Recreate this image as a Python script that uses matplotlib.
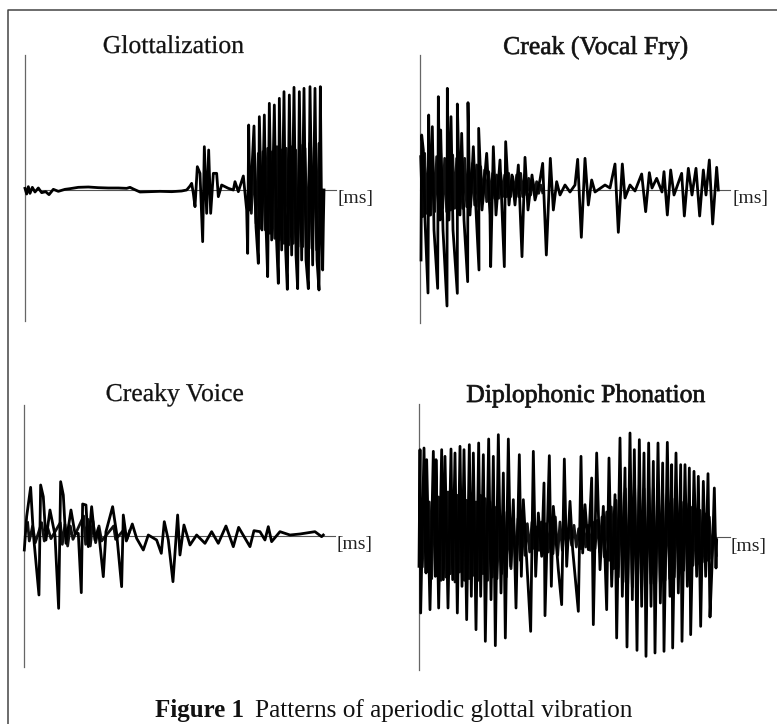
import matplotlib
matplotlib.use("Agg")
import matplotlib.pyplot as plt
import matplotlib.patheffects as pe

# Values as (t, v) turning points: t = distance from the vertical axis,
# v = height above the zero line, both in the same arbitrary units (the chart prints no scale)
titles = ["Glottalization", "Creak (Vocal Fry)", "Creaky Voice", "Diplophonic Phonation"]
caption_bold = "Figure 1"
caption_rest = "Patterns of aperiodic glottal vibration"
ms_label = "[ms]"

glott = [(0,5),(5,-12),(10,10),(15,-10),(22,8),(30,-6),(40,6),(50,-8),(62,-5),(72,-14),(85,2),(100,-4),
         (120,2),(135,4),(160,8),(190,9),(220,7),(250,6),(280,6),(305,5),(315,8),(325,3),(345,-6),(375,-5),
         (405,-4),(440,-5),(470,-3),(485,0),(495,12),(500,20),(505,-10),(510,-50),(517,70),(525,50),
         (533,-155),(538,130),(545,-70),(551,120),(557,-70),(565,50),(575,50),(580,-20),(590,15),(610,5),
         (625,0),(630,25),(640,-5),(655,42),(665,-60),(668,-190),(671,195),(675,-60),(687,192),(693,-110),
         (700,-220),(703,220),(711,-120),(718,225),(723,-105),(728,-260),(733,260),(740,-150),(748,255),
         (754,-135),(760,-280),(763,275),(770,-180),(777,295),(782,-180),(787,-298),(793,285),(800,-195),
         (807,308),(813,-195),(818,-296),(823,295),(830,-210),(837,305),(843,-210),(850,-296),(855,310),
         (863,-225),(870,305),(876,-210),(882,-300),(886,310),(890,-105),(893,-240),(895,-105),(897,0)]

creak = [(3,-210),(5,165),(10,120),(15,-90),(24,-309),(26,225),(30,-75),(37,190),(42,-120),(53,-295),(55,280),
         (60,-90),(62,180),(69,-120),(81,-348),(82,305),(87,-90),(93,220),(99,-120),(112,-310),(112,258),
         (120,-75),(125,170),(132,-90),(143,-275),(144,262),(150,-75),(160,130),(168,-60),(177,-240),(176,185),
         (186,-60),(200,110),(210,-75),(212,-230),(220,130),(228,-75),(240,90),(253,-230),(257,145),(267,-45),
         (276,45),(285,-45),(295,75),(306,-200),(315,98),(324,-60),(336,45),(345,-30),(360,30),(368,80),
         (379,-195),(391,95),(400,-60),(410,25),(420,-15),(435,15),(450,-6),(465,15),(473,92),(484,-142),
         (495,95),(505,-45),(515,30),(525,-6),(555,15),(570,6),(585,78),(595,-127),(607,78),(615,-24),(630,15),
         (645,-3),(665,48),(677,-65),(688,52),(696,6),(710,35),(726,-6),(732,55),(742,-75),(752,60),(762,-15),
         (785,50),(793,-78),(805,65),(816,-15),(828,65),(839,-78),(850,60),(858,-15),(868,90),(878,-102),
         (890,68),(895,0)]

creaky = [(0,-42),(7,58),(19,146),(27,8),(44,-177),(49,153),(57,118),(65,-12),(77,78),(92,3),(103,-217),(109,163),
          (117,123),(125,-22),(140,78),(152,8),(162,8),(171,-170),(175,96),(185,93),(192,-32),(202,88),(212,-12),
          (222,23),(237,-122),(245,13),(265,88),(277,8),(292,-152),(297,63),(307,-12),(324,36),(337,-7),(357,-42),
          (372,3),(397,-12),(411,-52),(420,43),(432,-12),(446,-137),(460,63),(467,-57),(479,33),(497,-27),(517,3),
          (542,-22),(562,13),(582,-22),(605,30),(627,-32),(643,26),(677,-32),(689,16),(707,13),(722,-12),(732,28),
          (742,-17),(767,13),(797,3),(827,6),(872,13),(892,-2),(897,3)]

diplo = [(0,-88),(3,262),(5,-228),(15,267),(21,-108),(23,232),(33,-218),(43,257),(49,-118),(51,232),(59,-213),
         (68,262),(73,-128),(78,242),(87,-213),(96,264),(101,-128),(108,252),(115,-228),(123,272),(129,-148),
         (135,262),(143,-248),(151,277),(157,-178),(163,252),(171,-278),(179,282),(185,-178),(193,247),(199,-313),
         (209,294),(216,-188),(223,242),(229,-326),(238,307),(246,-168),(253,192),(259,-303),(268,294),(275,-88),
         (283,112),(291,-213),(301,247),(307,-118),(313,112),(323,-68),(335,-283),(343,257),(350,-118),(358,72),
         (368,-58),(375,162),(378,-236),(391,244),(397,-148),(403,92),(418,-98),(428,-203),(436,234),(443,-88),
         (453,107),(461,-38),(478,-223),(486,242),(491,-48),(498,97),(508,-38),(518,177),(523,-263),(533,252),
         (543,-98),(553,92),(563,-218),(570,237),(578,-148),(588,127),(593,-303),(603,297),(610,-178),(618,207),
         (624,-330),(633,312),(640,-188),(646,262),(654,-340),(661,292),(668,-208),(675,252),(681,-358),(689,282),
         (696,-208),(703,227),(708,-348),(717,282),(724,-198),(731,222),(735,-343),(745,284),(753,-178),(758,217),
         (761,-333),(771,252),(778,-168),(785,217),(789,-313),(798,217),(805,-148),(811,207),(815,-293),(825,197),
         (833,-118),(838,182),(845,-268),(853,167),(860,-118),(867,190),(873,-240),(879,-88),(886,147),(891,-93),
         (893,-8)]

# finer oscillation where the printed trace closes up into a dark band
glott_core = [(672,40),(679,-70),(686,90),(693,-100),(700,110),(707,-115),(714,115),(721,-120),(728,125),(735,-130),
              (742,115),(749,-145),(756,130),(763,-150),(770,120),(777,-160),(784,125),(791,-165),(798,130),(805,-160),
              (812,120),(819,-170),(826,135),(833,-170),(840,125),(847,-175),(854,140),(861,-175),(868,130),(875,-180),
              (882,140),(889,-120)]

creak_core = [(2,100),(8,-80),(14,110),(20,-70),(26,95),(32,-75),(38,105),(44,-65),(50,100),(56,-60),(62,110),(68,-55),
              (74,95),(80,-65),(86,100),(92,-60),(98,105),(104,-55),(110,95),(116,-60),(122,90),(128,-55),(134,95),
              (140,-50),(146,85),(152,-50),(158,80),(164,-45),(170,75),(176,-50),(182,70),(188,-40),(194,60),(200,-35),
              (206,55),(212,-30),(218,50),(224,-25),(230,45),(236,-25),(242,50),(248,-20),(254,45),(260,-20),(266,50),
              (272,-20),(278,40),(284,-15),(290,45),(296,-20),(302,50),(308,-20),(314,45),(320,-15),(326,35),(332,-15),
              (338,30),(344,-10),(350,25),(356,-10),(362,15),(368,-8)]

creaky_core = [(10,40),(15,-15),(25,30),(33,-20),(52,40),(60,-15),(70,25),(80,-8),(108,40),(114,-25),(122,35),(130,-30),
               (138,30),(146,-10),(178,60),(184,-25),(191,50),(198,-30),(206,45),(214,-20),(224,30),(232,-15),(268,30),
               (274,-10),(300,20),(306,-15),(316,15)]

diplo_core = [(3,110),(10,-90),(17,125),(24,-100),(31,105),(38,-125),(45,130),(52,-105),(59,120),(66,-130),(73,110),
              (80,-120),(87,135),(94,-110),(101,115),(108,-135),(115,125),(122,-105),(129,135),(136,-130),(143,110),
              (150,-125),(157,130),(164,-115),(171,105),(178,-130),(185,125),(192,-110),(199,115),(206,-130),(213,105),
              (220,-120),(227,90),(234,-125),(241,80),(248,-110),(255,75),(262,-120),(269,65),(276,-95),(283,60),
              (290,-80),(297,55),(304,-70),(311,50),(318,-55),(325,40),(332,-45),(339,45),(346,-35),(353,30),(360,-40),
              (367,45),(374,-30),(381,40),(388,-45),(395,55),(402,-50),(409,60),(416,-55),(423,45),(430,-40),(437,35),
              (444,-30),(451,30),(458,-25),(465,35),(472,-30),(479,25),(486,-35),(493,40),(500,-30),(507,35),(514,-40),
              (521,45),(528,-35),(535,50),(542,-45),(549,60),(556,-60),(563,75),(570,-70),(577,90),(584,-95),(591,110),
              (598,-120),(605,135),(612,-135),(619,145),(626,-140),(633,150),(640,-150),(647,145),(654,-145),(661,155),
              (668,-150),(675,145),(682,-150),(689,150),(696,-140),(703,145),(710,-140),(717,140),(724,-135),(731,130),
              (738,-130),(745,125),(752,-125),(759,115),(766,-120),(773,110),(780,-110),(787,105),(794,-100),(801,100),
              (808,-90),(815,90),(822,-85),(829,85),(836,-80),(843,80),(850,-75),(857,70),(864,-70),(871,60),(878,-65),
              (885,40),(892,-55)]

# pixel layout of the 777x724 page
W, H = 777, 724
panels = [
    (glott, glott_core, 25.0, 190.0, 405, 392, 336, 337.5),
    (creak, creak_core, 420.0, 190.0, 405, 398, 730, 732),
    (creaky, creaky_core, 24.3, 536.0, 393, 392, 335, 337),
    (diplo, diplo_core, 419.0, 537.0, 400, 400, 730, 731),
]
title_xy = [(173.5, 53), (596, 54), (175, 401), (586, 402)]
heavy = [0.2, 0.45, 0.2, 0.55]

plt.rcParams["font.family"] = "Liberation Serif"
fig = plt.figure(figsize=(W / 100, H / 100), dpi=100)

page = fig.add_axes([0, 0, 1, 1])
page.set_xlim(0, W)
page.set_ylim(H, 0)
page.axis("off")

# frame of the scan: top and left rule only
page.plot([7.5, 7.5, W], [H, 10, 10], color="#444444", lw=1.1)

for i, (wave, core, x0, y0, up, down, line_end, ms_x) in enumerate(panels):
    # the waveform units are 3 to the pixel
    page.plot([x0, x0], [y0 - up / 3, y0 + down / 3], color="#666666", lw=0.9)
    page.plot([x0, line_end], [y0, y0], color="#555555", lw=0.8)
    page.plot([x0 + c[0] / 3 for c in core], [y0 - c[1] / 3 for c in core], color="#111111", lw=2.0)
    page.plot([x0 + p[0] / 3 for p in wave], [y0 - p[1] / 3 for p in wave], color="black", lw=2.0)
    page.text(ms_x, y0 + 13.5, ms_label, fontsize=14, color="#222222", ha="left", va="baseline")
    t = page.text(title_xy[i][0], title_xy[i][1], titles[i], fontsize=18.5, color="#111111", ha="center", va="baseline")
    t.set_path_effects([pe.Stroke(linewidth=heavy[i], foreground="#111111")])

page.text(155, 717, caption_bold, fontsize=18, fontweight="bold", ha="left", va="baseline", color="#111111")
page.text(255, 717, caption_rest, fontsize=18.2, ha="left", va="baseline", color="#111111")

fig.savefig("out.png", dpi=100)
